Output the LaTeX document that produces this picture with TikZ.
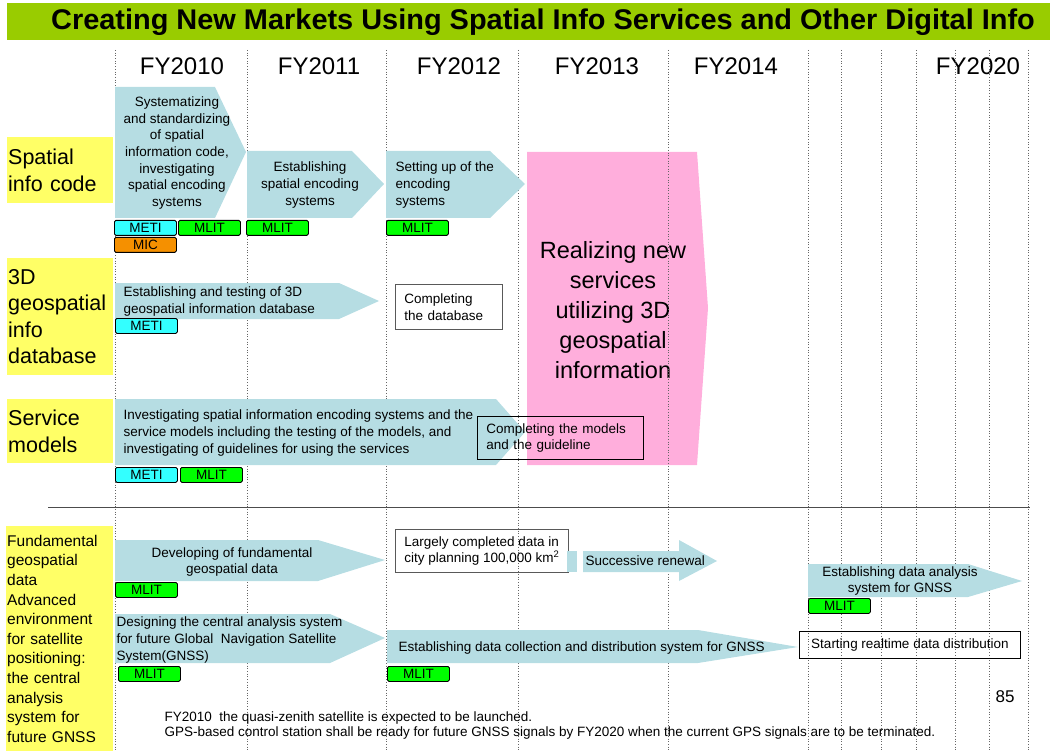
\documentclass[tikz,border=0pt]{standalone}
\usepackage{fontspec}
\setmainfont{Liberation Sans}
\usetikzlibrary{positioning}

\definecolor{titlegreen}{HTML}{99CC00}
\definecolor{labelyellow}{HTML}{FFFF66}
\definecolor{barblue}{HTML}{B6DDE3}
\definecolor{goalpink}{HTML}{FFAEDC}
\definecolor{meticyan}{HTML}{33FFFF}
\definecolor{mlitgreen}{HTML}{00FF00}
\definecolor{micorange}{HTML}{F59000}

\begin{document}
\begin{tikzpicture}[x=1pt,y=-1pt,
  bar/.style={fill=barblue},
  yearline/.style={draw=gray!80!black,dotted,line width=0.7pt},
  rowlabel/.style={fill=labelyellow,anchor=north west,inner sep=1pt,align=left,
    font=\fontsize{21.5}{26.5}\selectfont},
  yearlabel/.style={font=\fontsize{24}{26}\selectfont},
  bartext/.style={font=\fontsize{13.5}{16.7}\selectfont},
  donebox/.style={draw=gray!70!black,line width=0.8pt,anchor=north west,align=left,
    inner xsep=9pt,font=\fontsize{13.5}{16.7}\selectfont},
  tag/.style={draw=black,line width=0.8pt,rounded corners=1.5pt,anchor=north west,
    minimum width=62pt,minimum height=15pt,inner sep=0pt,
    font=\fontsize{13.5}{13.5}\selectfont}]
  \useasboundingbox (0,0) rectangle (1054,751);

  % Title
  \fill[titlegreen] (7,3) rectangle (1050,40);
  \node[font=\fontsize{28.5}{30}\bfseries\selectfont] (title) at (543,22)
    {\scalebox{1.015}[1]{Creating New Markets Using Spatial Info Services and Other Digital Info}};

  % Years
  \node[yearlabel] (fy10) at (182,66) {FY2010};
  \node[yearlabel] (fy11) at (319,66) {FY2011};
  \node[yearlabel] (fy12) at (459,66) {FY2012};
  \node[yearlabel] (fy13) at (597,66) {FY2013};
  \node[yearlabel] (fy14) at (736,66) {FY2014};
  \node[yearlabel] (fy20) at (978,66) {FY2020};

  % Row labels
  \node[rowlabel,minimum width=106pt,minimum height=66pt,text width=104pt] (codelbl)
    at (7,137) {Spatial\\info code};
  \node[rowlabel,minimum width=106pt,minimum height=117pt,text width=104pt] (dblbl)
    at (7,258) {3D\\geospatial\\info\\database};
  \node[rowlabel,minimum width=106pt,minimum height=64pt,text width=104pt] (svclbl)
    at (7,399) {Service\\models};
  \node[rowlabel,minimum width=107pt,minimum height=225pt,text width=105pt,
    font=\fontsize{15.5}{19.6}\selectfont] (gnsslbl) at (6,526)
    {Fundamental\\geospatial\\data\\Advanced\\environment\\for satellite\\positioning:\\the central\\analysis\\system for\\future GNSS};

  % Goal
  \fill[goalpink] (527,152) -- (697,152) -- (708,308) -- (697,465) -- (527,465) -- cycle;
  \node[align=center,font=\fontsize{23.5}{30}\selectfont] (goal) at (613,310)
    {Realizing new\\services\\utilizing 3D\\geospatial\\information};

  % Year lines
  \foreach \x in {115,247,386,518,668,808,841,881,916,955,989,1028}
    \draw[yearline] (\x,50) -- (\x,751);

  % Spatial info code
  \fill[bar] (115,87) -- (215,87) -- (246,152) -- (215,218) -- (115,218) -- cycle;
  \fill[bar] (247,151) -- (352,151) -- (384,184) -- (352,218) -- (247,218) -- cycle;
  \fill[bar] (386,151) -- (490,151) -- (525,184) -- (490,218) -- (386,218) -- cycle;
  \node[bartext,align=center] (code1) at (177,153)
    {Systematizing\\and standardizing\\of spatial\\information code,\\investigating\\spatial encoding\\systems};
  \node[bartext,align=center] (code2) at (310,185) {Establishing\\spatial encoding\\systems};
  \node[bartext,align=left,anchor=west] (code3) at (392,185) {Setting up of the\\encoding\\systems};
  \node[tag,fill=meticyan] (code1a) at (114,220) {METI};
  \node[tag,fill=mlitgreen] (code1b) at (178,220) {MLIT};
  \node[tag,fill=micorange] (code1c) at (114,237) {MIC};
  \node[tag,fill=mlitgreen] (code2a) at (246,220) {MLIT};
  \node[tag,fill=mlitgreen] (code3a) at (386,220) {MLIT};

  % 3D geospatial info database
  \fill[bar] (115,283) -- (339,283) -- (379,301) -- (339,319) -- (115,319) -- cycle;
  \node[bartext,align=left,anchor=west] (db1) at (120,301.5)
    {Establishing and testing of 3D\\geospatial information database};
  \node[tag,fill=meticyan] (db1a) at (115,318) {METI};
  \node[donebox,fill=white,minimum height=45pt,text width=89pt] (db2) at (395,284)
    {Completing\\the database};

  % Service models
  \fill[bar] (115,399) -- (496,399) -- (525,432) -- (496,465) -- (115,465) -- cycle;
  \node[bartext,align=left,anchor=west] (svc1) at (120,433)
    {Investigating spatial information encoding systems and the\\service models including the testing of the models, and\\investigating of guidelines for using the services};
  \node[donebox,draw=black,minimum height=43pt,text width=148pt] (svc2) at (477,416)
    {Completing the models\\and the guideline};
  \node[tag,fill=meticyan] (svc1a) at (115,467) {METI};
  \node[tag,fill=mlitgreen] (svc1b) at (180,467) {MLIT};

  % Separator
  \draw[gray!60!black,line width=1pt] (48,507) -- (1030,507);

  % Fundamental geospatial data
  \fill[bar] (115,540) -- (318,540) -- (385,560) -- (318,581) -- (115,581) -- cycle;
  \node[bartext,align=center] (geo1) at (232,562) {Developing of fundamental\\geospatial data};
  \node[tag,fill=mlitgreen] (geo1a) at (115,582) {MLIT};
  \node[donebox,minimum width=171pt,minimum height=43pt] (geo2) at (395,529)
    {Largely completed data in\\city planning 100,000 km\textsuperscript{2}};
  \fill[bar] (567,551) rectangle (577,572);
  \fill[bar] (583,551) -- (679,551) -- (679,540) -- (717,561) -- (679,581) -- (679,572)
    -- (583,572) -- cycle;
  \node[bartext,anchor=west] (geo3) at (582,561) {Successive renewal};

  % GNSS
  \fill[bar] (115,614) -- (330,614) -- (385,638) -- (330,663) -- (115,663) -- cycle;
  \node[bartext,align=left,anchor=west] (gnss1) at (113,640)
    {Designing the central analysis system\\for future Global\ \ Navigation Satellite\\System(GNSS)};
  \node[tag,fill=mlitgreen] (gnss1a) at (118,666) {MLIT};
  \fill[bar] (387,630) -- (698,630) -- (798,647) -- (698,663) -- (387,663) -- cycle;
  \node[bartext,anchor=west] (gnss2) at (395,648)
    {Establishing data collection and distribution system for GNSS};
  \node[tag,fill=mlitgreen] (gnss2a) at (387,666) {MLIT};
  \fill[bar] (808,564) -- (968,564) -- (1022,581) -- (968,597) -- (808,597) -- cycle;
  \node[bartext,align=center] (gnss3) at (900,581) {Establishing data analysis\\system for GNSS};
  \node[tag,fill=mlitgreen] (gnss3a) at (808,598) {MLIT};
  \node[donebox,draw=black,minimum width=221pt,minimum height=27pt,align=center] (gnss4)
    at (799,631) {Starting realtime data distribution};

  % Notes
  \node[font=\fontsize{17}{19}\selectfont] (page) at (1005,697) {85};
  \node[bartext,align=left,anchor=west,font=\fontsize{13.5}{15}\selectfont] (note) at (161,725.5)
    {FY2010\ \ the quasi-zenith satellite is expected to be launched.\\GPS-based control station shall be ready for future GNSS signals by FY2020 when the current GPS signals are to be terminated.};
\end{tikzpicture}
\end{document}
